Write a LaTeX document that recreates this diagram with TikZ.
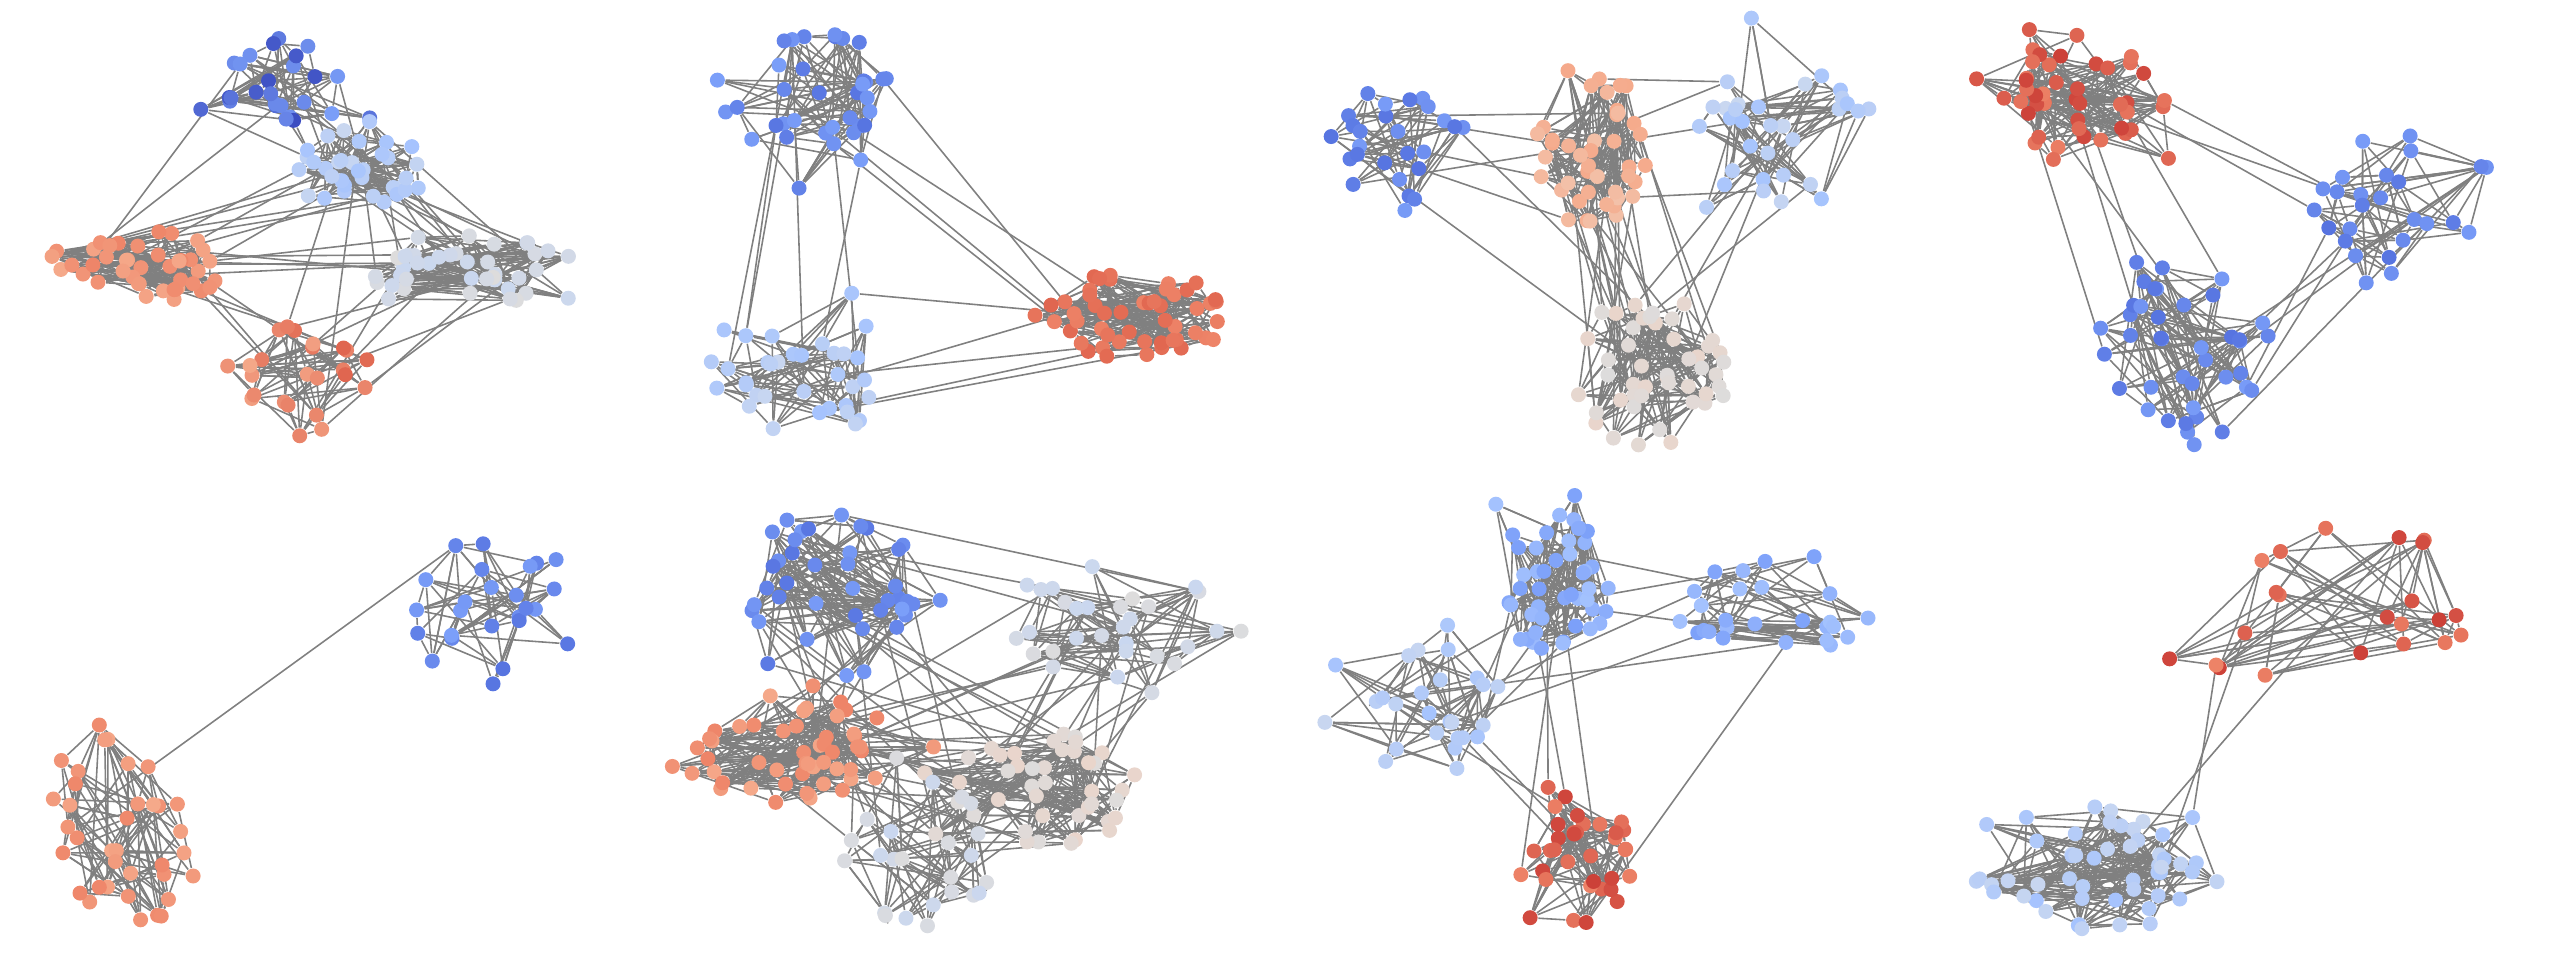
\documentclass[tikz,border=0pt]{standalone}
\usetikzlibrary{positioning}

\definecolor{cwDark}{HTML}{3B4CC0}
\definecolor{cwBlue}{HTML}{5673E0}
\definecolor{cwMid}{HTML}{7B9FF9}
\definecolor{cwLight}{HTML}{A5C3FE}
\definecolor{cwPale}{HTML}{C9D7F0}
\definecolor{cwGray}{HTML}{DDDCDC}
\definecolor{cwBeige}{HTML}{E9D5CB}
\definecolor{cwSalmon}{HTML}{F3C1A9}
\definecolor{cwPeach}{HTML}{F5A98A}
\definecolor{cwOrange}{HTML}{EE8468}
\definecolor{cwCoral}{HTML}{E0654F}
\definecolor{cwRed}{HTML}{CC4038}
\definecolor{cwDeep}{HTML}{B40426}

\pgfdeclarelayer{edges}
\pgfsetlayers{edges,main}

\tikzset{
  vert/.style={circle, inner sep=0pt, minimum size=0.15cm},
  link/.style={draw=gray, line width=0.45pt},
}

% #1 name, #2 #3 centre, #4 #5 radii, #6 count, #7 #8 colours
\newcommand{\makecluster}[8]{%
  \foreach \i in {1,...,#6}{%
    \pgfmathsetmacro{\ang}{360*rnd}%
    \pgfmathsetmacro{\rad}{1.1*sqrt(rnd)*(1+0.4*(rnd>0.88))}%
    \pgfmathtruncatemacro{\mix}{100*rnd}%
    \node[vert, fill=#7!\mix!#8] (#1-\i) at ({#2+#4*\rad*cos(\ang)},{#3+#5*\rad*sin(\ang)}) {};
  }%
}
% #1 name, #2 count, #3 links per vertex
\newcommand{\wirecluster}[3]{%
  \foreach \i in {1,...,#2}{%
    \foreach \k in {1,...,#3}{%
      \pgfmathrandominteger{\j}{1}{#2}%
      \ifnum\j=\i\else\draw[link] (#1-\i) -- (#1-\j);\fi
    }%
  }%
}
% #1 #2 first cluster, #3 #4 second cluster, #5 links
\newcommand{\joincl}[5]{%
  \foreach \k in {1,...,#5}{%
    \pgfmathrandominteger{\p}{1}{#2}%
    \pgfmathrandominteger{\q}{1}{#4}%
    \draw[link] (#1-\p) -- (#3-\q);
  }%
}

\begin{document}
\begin{tikzpicture}[x=0.01cm, y=-0.01cm]
\pgfmathsetseed{2024}
\useasboundingbox (0,0) rectangle (2560,960);

% top row
\makecluster{p1a}{284}{82}{64}{48}{26}{cwDark}{cwMid}
\makecluster{p1b}{365}{167}{66}{42}{34}{cwLight}{cwPale}
\makecluster{p1c}{470}{267}{94}{34}{40}{cwPale}{cwGray}
\makecluster{p1d}{140}{266}{88}{34}{42}{cwOrange}{cwPeach}
\makecluster{p1e}{310}{382}{62}{56}{24}{cwCoral}{cwPeach}

\makecluster{p2a}{820}{102}{76}{62}{36}{cwBlue}{cwMid}
\makecluster{p2b}{1140}{315}{80}{42}{50}{cwCoral}{cwOrange}
\makecluster{p2c}{796}{370}{80}{68}{34}{cwLight}{cwPale}

\makecluster{p3a}{1405}{140}{72}{62}{26}{cwBlue}{cwMid}
\makecluster{p3b}{1590}{145}{52}{74}{42}{cwPeach}{cwSalmon}
\makecluster{p3c}{1785}{125}{78}{80}{32}{cwLight}{cwPale}
\makecluster{p3d}{1650}{372}{70}{70}{46}{cwBeige}{cwGray}

\makecluster{p4a}{2070}{97}{90}{58}{46}{cwRed}{cwOrange}
\makecluster{p4b}{2405}{200}{90}{60}{26}{cwBlue}{cwMid}
\makecluster{p4c}{2190}{355}{86}{84}{40}{cwBlue}{cwMid}

% bottom row
\makecluster{p5a}{490}{605}{92}{84}{25}{cwBlue}{cwMid}
\makecluster{p5b}{125}{822}{74}{96}{36}{cwOrange}{cwPeach}

\makecluster{p6a}{830}{580}{86}{64}{40}{cwBlue}{cwMid}
\makecluster{p6b}{1115}{617}{98}{56}{30}{cwGray}{cwPale}
\makecluster{p6c}{790}{748}{96}{50}{52}{cwOrange}{cwPeach}
\makecluster{p6d}{1050}{785}{90}{60}{42}{cwBeige}{cwGray}
\makecluster{p6e}{918}{855}{70}{68}{24}{cwGray}{cwPale}

\makecluster{p7a}{1550}{582}{62}{62}{46}{cwMid}{cwLight}
\makecluster{p7b}{1775}{612}{88}{62}{26}{cwMid}{cwLight}
\makecluster{p7c}{1410}{702}{88}{56}{26}{cwPale}{cwLight}
\makecluster{p7d}{1582}{862}{54}{64}{36}{cwRed}{cwOrange}

\begin{scope}[shift={(2346,605)}, yslant=0.2]
\makecluster{p8a}{0}{0}{130}{76}{22}{cwRed}{cwOrange}
\end{scope}
\makecluster{p8b}{2100}{868}{116}{58}{52}{cwLight}{cwPale}

\begin{pgfonlayer}{edges}
\wirecluster{p1a}{26}{3} \wirecluster{p1b}{34}{4} \wirecluster{p1c}{40}{4}
\wirecluster{p1d}{42}{4} \wirecluster{p1e}{24}{3}
\joincl{p1a}{26}{p1b}{34}{10} \joincl{p1a}{26}{p1d}{42}{2}
\joincl{p1b}{34}{p1c}{40}{14} \joincl{p1b}{34}{p1d}{42}{8}
\joincl{p1c}{40}{p1d}{42}{6} \joincl{p1d}{42}{p1e}{24}{5}
\joincl{p1c}{40}{p1e}{24}{8} \joincl{p1b}{34}{p1e}{24}{2}

\wirecluster{p2a}{36}{3} \wirecluster{p2b}{50}{4} \wirecluster{p2c}{34}{3}
\joincl{p2a}{36}{p2c}{34}{6} \joincl{p2a}{36}{p2b}{50}{4} \joincl{p2c}{34}{p2b}{50}{5}

\wirecluster{p3a}{26}{3} \wirecluster{p3b}{42}{4} \wirecluster{p3c}{32}{3}
\wirecluster{p3d}{46}{4}
\joincl{p3a}{26}{p3b}{42}{4} \joincl{p3b}{42}{p3c}{32}{3} \joincl{p3b}{42}{p3d}{46}{20}
\joincl{p3a}{26}{p3d}{46}{2} \joincl{p3c}{32}{p3d}{46}{4} \joincl{p3a}{26}{p3c}{32}{1}

\wirecluster{p4a}{46}{4} \wirecluster{p4b}{26}{3} \wirecluster{p4c}{40}{3}
\joincl{p4a}{46}{p4b}{26}{3} \joincl{p4a}{46}{p4c}{40}{5} \joincl{p4b}{26}{p4c}{40}{6}

\wirecluster{p5a}{25}{3} \wirecluster{p5b}{36}{3}
\joincl{p5a}{25}{p5b}{36}{1}

\wirecluster{p6a}{40}{4} \wirecluster{p6b}{30}{3} \wirecluster{p6c}{52}{4}
\wirecluster{p6d}{42}{4} \wirecluster{p6e}{24}{3}
\joincl{p6a}{40}{p6c}{52}{8} \joincl{p6a}{40}{p6b}{30}{3} \joincl{p6a}{40}{p6d}{42}{6}
\joincl{p6a}{40}{p6e}{24}{6} \joincl{p6c}{52}{p6b}{30}{6} \joincl{p6c}{52}{p6d}{42}{15}
\joincl{p6c}{52}{p6e}{24}{6} \joincl{p6b}{30}{p6d}{42}{10} \joincl{p6d}{42}{p6e}{24}{10}
\joincl{p6b}{30}{p6e}{24}{3}

\wirecluster{p7a}{46}{4} \wirecluster{p7b}{26}{3} \wirecluster{p7c}{26}{3}
\wirecluster{p7d}{36}{4}
\joincl{p7a}{46}{p7b}{26}{3} \joincl{p7a}{46}{p7c}{26}{5} \joincl{p7a}{46}{p7d}{36}{4}
\joincl{p7c}{26}{p7b}{26}{3} \joincl{p7c}{26}{p7d}{36}{3} \joincl{p7b}{26}{p7d}{36}{1}

\wirecluster{p8a}{22}{3} \wirecluster{p8b}{52}{4}
\joincl{p8a}{22}{p8b}{52}{3}
\end{pgfonlayer}
\end{tikzpicture}
\end{document}
